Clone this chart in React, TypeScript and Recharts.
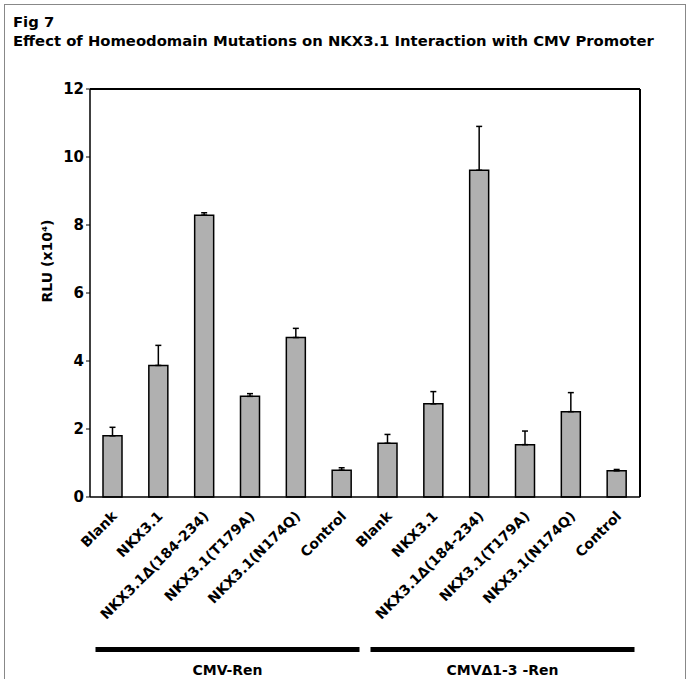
import React from 'react';
import { BarChart, Bar, XAxis, YAxis, ErrorBar } from 'recharts';

const categories = [
  'Blank', 'NKX3.1', 'NKX3.1Δ(184-234)', 'NKX3.1(T179A)', 'NKX3.1(N174Q)', 'Control',
  'Blank', 'NKX3.1', 'NKX3.1Δ(184-234)', 'NKX3.1(T179A)', 'NKX3.1(N174Q)', 'Control',
];
const groups = [
  'CMV-Ren', 'CMV-Ren', 'CMV-Ren', 'CMV-Ren', 'CMV-Ren', 'CMV-Ren',
  'CMVΔ1-3 -Ren', 'CMVΔ1-3 -Ren', 'CMVΔ1-3 -Ren', 'CMVΔ1-3 -Ren', 'CMVΔ1-3 -Ren', 'CMVΔ1-3 -Ren',
];
const rlu = [1.8, 3.87, 8.29, 2.96, 4.69, 0.79, 1.58, 2.74, 9.61, 1.54, 2.51, 0.77];
const sd = [0.25, 0.59, 0.07, 0.08, 0.27, 0.07, 0.26, 0.36, 1.29, 0.4, 0.56, 0.04];
const yTicks = [0, 2, 4, 6, 8, 10, 12];

const data = categories.map((name, i) => ({
  key: i,
  name,
  group: groups[i],
  rlu: rlu[i],
  err: [0, sd[i]],
}));

const FONT = '"DejaVu Sans", Verdana, sans-serif';

const CategoryTick = ({ x, y, payload }: any) => (
  <text
    x={x + 5}
    y={y + 12}
    transform={`rotate(-45, ${x + 5}, ${y + 12})`}
    textAnchor="end"
    fontFamily={FONT}
    fontWeight="bold"
    fontSize={14}
    fill="#000"
  >
    {categories[payload.value]}
  </text>
);

const GROUP_HALF = 132;

const GroupTick = ({ x, y, payload }: any) => (
  <g>
    <rect x={x - GROUP_HALF} y={y + 2} width={GROUP_HALF * 2} height={5} fill="#000" />
    <text
      x={x}
      y={y + 30}
      textAnchor="middle"
      fontFamily={FONT}
      fontWeight="bold"
      fontSize={14}
      fill="#000"
    >
      {payload.value}
    </text>
  </g>
);

export default function App() {
  return (
    <div
      style={{
        position: 'absolute',
        left: 0,
        top: 0,
        width: 689,
        height: 679,
        background: '#fff',
        fontFamily: FONT,
      }}
    >
      <div
        style={{
          position: 'absolute',
          left: 4,
          top: 4,
          width: 680,
          height: 680,
          borderLeft: '1px solid #888',
          borderTop: '1px solid #888',
          borderRight: '1px solid #888',
        }}
      />
      <div style={{ position: 'absolute', left: 13, top: 13, fontWeight: 'bold', fontSize: 14.8 }}>
        Fig 7
      </div>
      <div style={{ position: 'absolute', left: 13, top: 32, fontWeight: 'bold', fontSize: 14.8, whiteSpace: 'nowrap' }}>
        Effect of Homeodomain Mutations on NKX3.1 Interaction with CMV Promoter
      </div>
      <div style={{ position: 'absolute', left: 0, top: 0 }}>
        <BarChart
          width={689}
          height={679}
          data={data}
          margin={{ top: 88, right: 48, left: 40, bottom: 0 }}
          barSize={19}
        >
          <XAxis
            xAxisId="cat"
            dataKey="key"
            type="category"
            height={140}
            interval={0}
            tickLine={false}
            axisLine={{ stroke: '#000', strokeWidth: 1.5 }}
            tick={<CategoryTick />}
          />
          <XAxis
            xAxisId="group"
            dataKey="group"
            type="category"
            allowDuplicatedCategory={false}
            height={42}
            interval={0}
            tickLine={false}
            axisLine={false}
            tick={<GroupTick />}
          />
          <XAxis
            xAxisId="top"
            orientation="top"
            dataKey="key"
            height={1}
            tick={false}
            tickLine={false}
            axisLine={{ stroke: '#000', strokeWidth: 2 }}
          />
          <YAxis
            yAxisId="left"
            width={50}
            domain={[0, 12]}
            ticks={yTicks}
            interval={0}
            tickSize={4}
            tickLine={{ stroke: '#000' }}
            axisLine={{ stroke: '#000', strokeWidth: 1.5 }}
            tick={{ fill: '#000', fontFamily: FONT, fontWeight: 'bold', fontSize: 15 }}
            label={{
              content: () => (
                <text
                  transform="translate(52, 261) rotate(-90)"
                  textAnchor="middle"
                  fontFamily={FONT}
                  fontWeight="bold"
                  fontSize={14}
                  fill="#000"
                >
                  RLU (x10⁴)
                </text>
              ),
            }}
          />
          <YAxis
            yAxisId="right"
            orientation="right"
            width={1}
            domain={[0, 12]}
            tick={false}
            tickLine={false}
            axisLine={{ stroke: '#000', strokeWidth: 2 }}
          />
          <Bar
            xAxisId="cat"
            yAxisId="left"
            dataKey="rlu"
            fill="#b0b0b0"
            stroke="#000"
            strokeWidth={1.5}
            isAnimationActive={false}
          >
            <ErrorBar dataKey="err" width={3} stroke="#000" strokeWidth={1.5} direction="y" />
          </Bar>
        </BarChart>
      </div>
    </div>
  );
}
